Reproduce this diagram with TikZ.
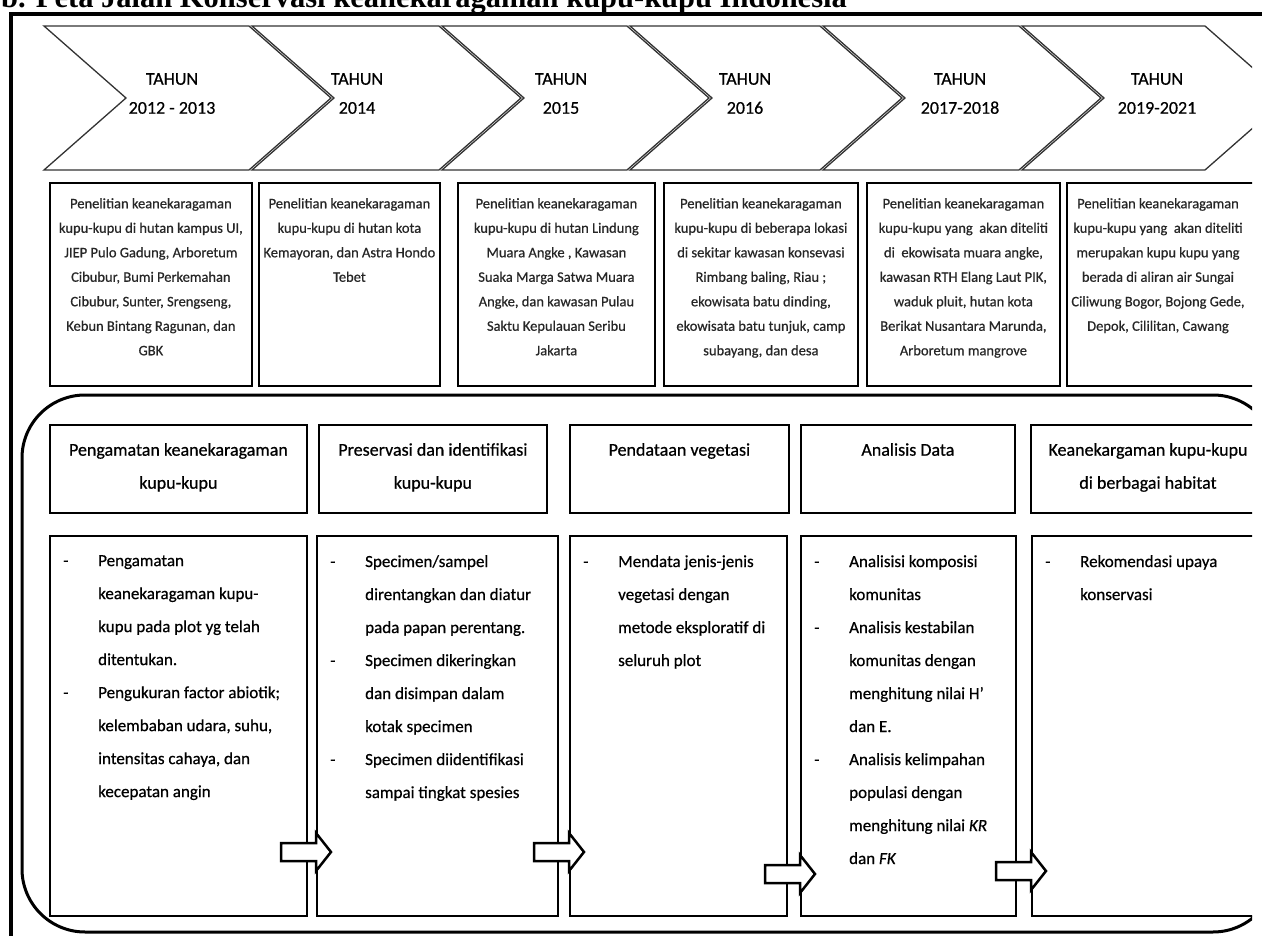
\documentclass[tikz,border=0pt]{standalone}
\usepackage{fontspec}
\setmainfont{Carlito}[FakeBold=0.6]
\newfontfamily\titlefont{Liberation Serif}
\newcommand\stepitem{\makebox[35pt][l]{-}}
\newcommand\stepcont{\hspace*{35pt}}
\begin{document}
\begin{tikzpicture}[x=1pt,y=-1pt]
\tikzset{
  chev/.style={draw=black!80, line width=1.3pt, line join=miter},
  yeartext/.style={anchor=north, inner sep=0, align=center, font=\fontsize{18}{29}\selectfont},
  descbox/.style={draw, line width=1.8pt, anchor=north west, inner sep=0, minimum height=203pt},
  desctext/.style={anchor=north, inner sep=0, align=center, text=black!85, font=\fontsize{14.5}{24.5}\selectfont},
  container/.style={draw, line width=3pt, rounded corners=63pt},
  headbox/.style={draw, line width=1.8pt, anchor=north west, inner sep=0, minimum height=88pt},
  headtext/.style={anchor=north, inner sep=0, align=center, font=\fontsize{18}{33}\selectfont},
  stepbox/.style={draw, line width=1.8pt, anchor=north west, inner sep=0, minimum height=380pt},
  steptext/.style={anchor=north west, inner sep=0, align=left, font=\fontsize{17}{33}\selectfont},
  blockarrow/.style={draw, line width=2.5pt, fill=white, line join=miter},
}
\useasboundingbox (0,0) rectangle (1262,936);

% heading, partly above the page
\node[anchor=base west, inner sep=0, font=\titlefont\bfseries\fontsize{30.5}{30}\selectfont] (title) at (1,8)
  {b. Peta Jalan Konservasi keanekaragaman kupu-kupu Indonesia};

% outer frame
\draw[line width=4pt] (11,936) -- (11,14) -- (1262,14);

\begin{scope}
\clip (0,0) rectangle (1252,936);

% timeline chevrons
\foreach \l/\r in {44/249, 252/439, 442/627, 630/820, 823/1019, 1022/1205}
  \draw[chev] (\l,26) -- (\r,26) -- (\r+82,98) -- (\r,170) -- (\l,170) -- (\l+82,98) -- cycle;

\node[yeartext] (y1) at (172,73) {TAHUN\\2012 - 2013};
\node[yeartext] (y2) at (357,73) {TAHUN\\2014};
\node[yeartext] (y3) at (561,73) {TAHUN\\2015};
\node[yeartext] (y4) at (745,73) {TAHUN\\2016};
\node[yeartext] (y5) at (960,73) {TAHUN\\2017-2018};
\node[yeartext] (y6) at (1157,73) {TAHUN\\2019-2021};

% research locations per period
\node[descbox, minimum width=202pt] (d1) at (49,182) {};
\node[descbox, minimum width=181pt] (d2) at (258,182) {};
\node[descbox, minimum width=197pt] (d3) at (457,182) {};
\node[descbox, minimum width=194pt] (d4) at (663,182) {};
\node[descbox, minimum width=193pt] (d5) at (866,182) {};
\node[descbox, minimum width=200pt] (d6) at (1066,182) {};

\node[desctext] (d1t) at (d1.north |- 0,198) {Penelitian keanekaragaman\\kupu-kupu di hutan kampus UI,\\JIEP Pulo Gadung, Arboretum\\Cibubur, Bumi Perkemahan\\Cibubur, Sunter, Srengseng,\\Kebun Bintang Ragunan, dan\\GBK};
\node[desctext] (d2t) at (d2.north |- 0,198) {Penelitian keanekaragaman\\kupu-kupu di hutan kota\\Kemayoran, dan Astra Hondo\\Tebet};
\node[desctext] (d3t) at (d3.north |- 0,198) {Penelitian keanekaragaman\\kupu-kupu di hutan Lindung\\Muara Angke , Kawasan\\Suaka Marga Satwa Muara\\Angke, dan kawasan Pulau\\Saktu Kepulauan Seribu\\Jakarta};
\node[desctext] (d4t) at (d4.north |- 0,198) {Penelitian keanekaragaman\\kupu-kupu di beberapa lokasi\\di sekitar kawasan konsevasi\\Rimbang baling, Riau ;\\ekowisata batu dinding,\\ekowisata batu tunjuk, camp\\subayang, dan desa};
\node[desctext] (d5t) at (d5.north |- 0,198) {Penelitian keanekaragaman\\kupu-kupu yang\ \ akan diteliti\\di\ \ ekowisata muara angke,\\kawasan RTH Elang Laut PIK,\\waduk pluit, hutan kota\\Berikat Nusantara Marunda,\\Arboretum mangrove};
\node[desctext] (d6t) at (1158,198) {Penelitian keanekaragaman\\kupu-kupu yang\ \ akan diteliti\\merupakan kupu kupu yang\\berada di aliran air Sungai\\Ciliwung Bogor, Bojong Gede,\\Depok, Cililitan, Cawang};

% rounded frame around the research steps
\draw[container] (22,395) rectangle (1276,932);

% step headings
\node[headbox, minimum width=257pt] (h1) at (49,424) {};
\node[headbox, minimum width=228pt] (h2) at (318,424) {};
\node[headbox, minimum width=219pt] (h3) at (569,424) {};
\node[headbox, minimum width=214pt] (h4) at (800,424) {};
\node[headbox, minimum width=260pt] (h5) at (1030,424) {};

\node[headtext] (h1t) at (h1.north |- 0,443) {Pengamatan keanekaragaman\\kupu-kupu};
\node[headtext] (h2t) at (h2.north |- 0,443) {Preservasi dan identifikasi\\kupu-kupu};
\node[headtext] (h3t) at (h3.north |- 0,443) {Pendataan vegetasi};
\node[headtext] (h4t) at (h4.north |- 0,443) {Analisis Data};
\node[headtext] (h5t) at (1148,443) {Keanekargaman kupu-kupu\\di berbagai habitat};

% step details
\node[stepbox, minimum width=257pt] (s1) at (49,535) {};
\node[stepbox, minimum width=241pt] (s2) at (316,535) {};
\node[stepbox, minimum width=217pt] (s3) at (569,535) {};
\node[stepbox, minimum width=215pt] (s4) at (800,535) {};
\node[stepbox, minimum width=260pt] (s5) at (1031,535) {};

\node[steptext] (s1t) at ([xshift=14pt]s1.north west |- 0,555) {\stepitem Pengamatan\\\stepcont keanekaragaman kupu-\\\stepcont kupu pada plot yg telah\\\stepcont ditentukan.\\\stepitem Pengukuran factor abiotik;\\\stepcont kelembaban udara, suhu,\\\stepcont intensitas cahaya, dan\\\stepcont kecepatan angin};
\node[steptext] (s2t) at ([xshift=14pt]s2.north west |- 0,555) {\stepitem Specimen/sampel\\\stepcont direntangkan dan diatur\\\stepcont pada papan perentang.\\\stepitem Specimen dikeringkan\\\stepcont dan disimpan dalam\\\stepcont kotak specimen\\\stepitem Specimen diidentifikasi\\\stepcont sampai tingkat spesies};
\node[steptext] (s3t) at ([xshift=14pt]s3.north west |- 0,555) {\stepitem Mendata jenis-jenis\\\stepcont vegetasi dengan\\\stepcont metode eksploratif di\\\stepcont seluruh plot};
\node[steptext] (s4t) at ([xshift=14pt]s4.north west |- 0,555) {\stepitem Analisisi komposisi\\\stepcont komunitas\\\stepitem Analisis kestabilan\\\stepcont komunitas dengan\\\stepcont menghitung nilai H'\\\stepcont dan E.\\\stepitem Analisis kelimpahan\\\stepcont populasi dengan\\\stepcont menghitung nilai \textit{KR}\\\stepcont dan \textit{FK}};
\node[steptext] (s5t) at ([xshift=14pt]s5.north west |- 0,555) {\stepitem Rekomendasi upaya\\\stepcont konservasi};

% block arrows between the steps
\coordinate (a1) at (s2.west |- 0,852);
\coordinate (a2) at (s3.west |- 0,852);
\coordinate (a3) at (s4.west |- 0,874);
\coordinate (a4) at (s5.west |- 0,871);
\foreach \a in {a1,a2,a3,a4}
  \draw[blockarrow] (\a) ++(-35,-9) -- ++(35,0) -- ++(0,-10) -- ++(15,19) -- ++(-15,19) -- ++(0,-10) -- ++(-35,0) -- cycle;

\end{scope}
\end{tikzpicture}
\end{document}
